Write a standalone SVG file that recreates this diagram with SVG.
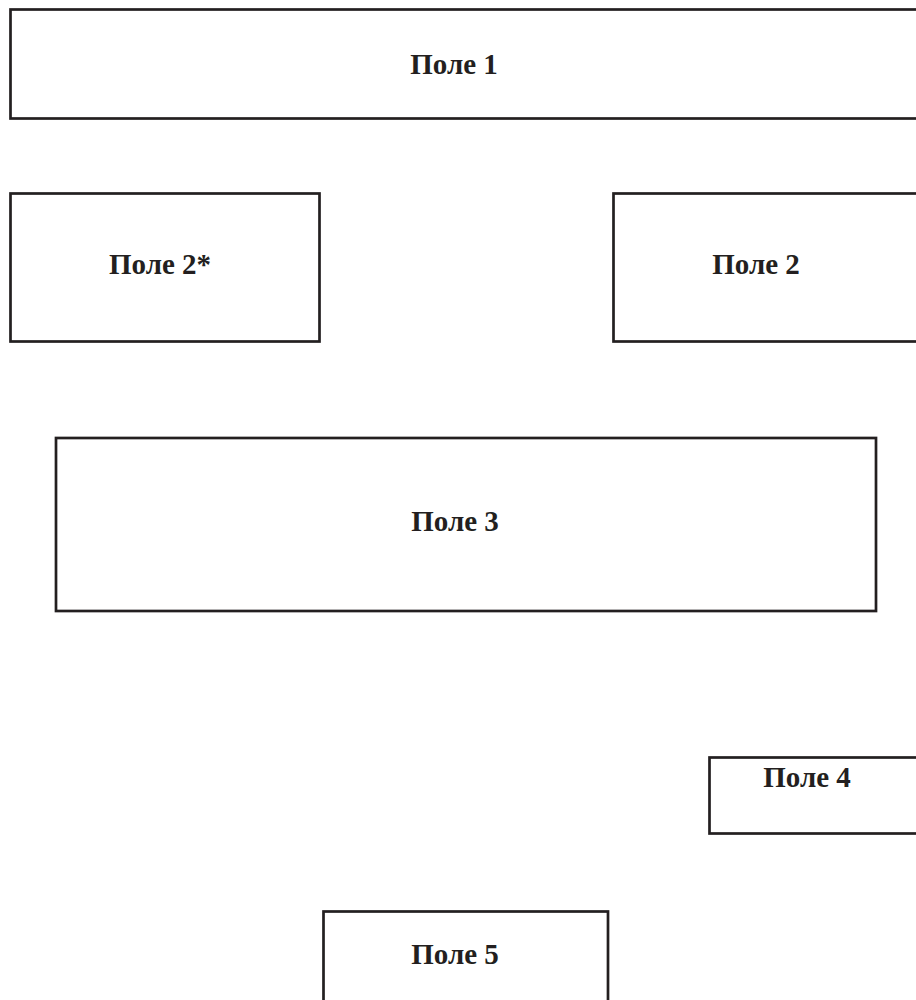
<svg xmlns="http://www.w3.org/2000/svg" width="916" height="1000" viewBox="0 0 916 1000">
<style>
.box{fill:#fff;stroke:#231f20;stroke-width:2.7}
.lbl{font-family:"Liberation Serif","DejaVu Serif",serif;font-weight:bold;font-size:29px;fill:#231f20;text-anchor:middle}
</style>
<rect width="916" height="1000" fill="#fff"/>
<g id="connectors"></g>
<g id="node1"><rect class="box" x="10.5" y="9.5" width="920" height="109"/><text class="lbl" x="454" y="74">Поле 1</text></g>
<g id="node2star"><rect class="box" x="10.5" y="193.5" width="309" height="148"/><text class="lbl" x="160" y="274">Поле 2*</text></g>
<g id="node2"><rect class="box" x="613.5" y="193.5" width="320" height="148"/><text class="lbl" x="756" y="274">Поле 2</text></g>
<g id="node3"><rect class="box" x="56" y="438" width="820" height="173"/><text class="lbl" x="455" y="531">Поле 3</text></g>
<g id="node4"><rect class="box" x="709.5" y="757.5" width="220" height="76"/><text class="lbl" x="807" y="787">Поле 4</text></g>
<g id="node5"><rect class="box" x="323.5" y="911.5" width="284.5" height="110"/><text class="lbl" x="455" y="964">Поле 5</text></g>
</svg>
